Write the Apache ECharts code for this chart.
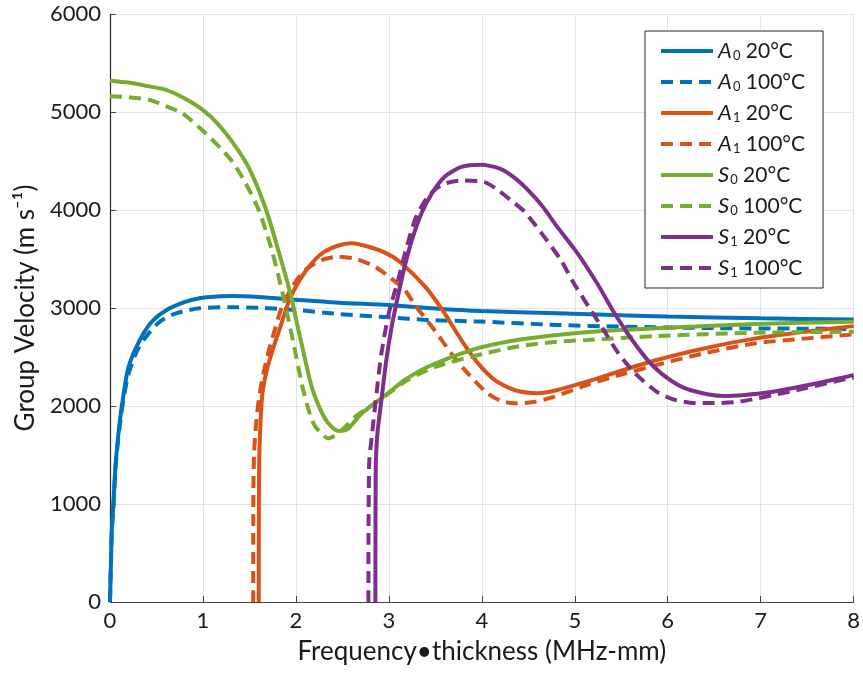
<!DOCTYPE html>
<html>
<head>
<meta charset="utf-8">
<script src="https://cdn.jsdelivr.net/npm/echarts@6/dist/echarts.min.js"></script>
<style>
  html, body { margin: 0; padding: 0; background: #fff; }
  #chart { width: 863px; height: 673px; }
</style>
</head>
<body>
<div id="chart"></div>
<script>
"use strict";

var xTicks = [0, 1, 2, 3, 4, 5, 6, 7, 8];
var yTicks = [0, 1000, 2000, 3000, 4000, 5000, 6000];

// [frequency*thickness, group velocity]
var a0_20 = [[0,0],[0.01,400],[0.02,750],[0.035,970],[0.06,1400],[0.1,1800],[0.142,2095],[0.2,2400],[0.32,2673],[0.45,2860],[0.61,2980],[0.8,3060],[0.96,3099],[1.15,3118],[1.32,3122],[1.6,3112],[2.0,3085],[2.46,3054],[3.0,3030],[3.5,2995],[3.99,2969],[4.81,2946],[5.5,2925],[6,2912],[7,2895],[8,2882]];
var a0_100 = [[0,0],[0.01,400],[0.02,740],[0.035,950],[0.06,1380],[0.1,1760],[0.142,2050],[0.2,2330],[0.3,2580],[0.43,2758],[0.55,2870],[0.71,2946],[0.96,2997],[1.28,3007],[1.6,3003],[2.0,2980],[2.46,2939],[3.0,2905],[3.42,2878],[3.99,2861],[4.81,2827],[5.5,2810],[6.5,2795],[7.88,2786],[8,2782]];
var a1_20 = [[1.6,0],[1.601,700],[1.603,1200],[1.607,1517],[1.62,1850],[1.64,2129],[1.69,2380],[1.75,2571],[1.83,2800],[1.93,3082],[2.05,3300],[2.17,3456],[2.3,3570],[2.46,3638],[2.6,3660],[2.8,3620],[2.97,3560],[3.12,3470],[3.39,3218],[3.6,2946],[3.78,2673],[3.96,2435],[4.14,2265],[4.35,2163],[4.6,2130],[4.81,2163],[5.13,2248],[5.5,2360],[5.88,2469],[6.4,2590],[6.95,2690],[7.5,2760],[8,2815]];
var a1_100 = [[1.54,0],[1.541,700],[1.543,1200],[1.55,1517],[1.57,1800],[1.6,2061],[1.65,2330],[1.71,2571],[1.78,2800],[1.85,3013],[1.97,3230],[2.1,3388],[2.28,3490],[2.46,3524],[2.65,3500],[2.85,3422],[3.0,3320],[3.17,3184],[3.28,3031],[3.49,2776],[3.67,2538],[3.85,2333],[4.06,2130],[4.2,2055],[4.35,2027],[4.55,2040],[4.78,2095],[5.13,2214],[5.5,2320],[5.88,2418],[6.4,2540],[6.95,2640],[7.5,2690],[8,2730]];
var s0_20 = [[0,5320],[0.2,5300],[0.4,5265],[0.61,5224],[0.8,5140],[1.0,5020],[1.15,4890],[1.32,4690],[1.5,4420],[1.68,4000],[1.82,3558],[1.94,3150],[2.05,2680],[2.17,2197],[2.27,1950],[2.35,1823],[2.46,1745],[2.55,1760],[2.71,1925],[2.85,2030],[2.99,2130],[3.17,2265],[3.42,2401],[3.89,2571],[4.3,2660],[4.81,2724],[5.3,2765],[5.88,2793],[6.95,2837],[8,2860]];
var s0_100 = [[0,5160],[0.2,5150],[0.43,5122],[0.6,5060],[0.78,4986],[1.03,4782],[1.2,4620],[1.32,4490],[1.46,4272],[1.6,4000],[1.73,3626],[1.84,3218],[1.95,2750],[2.07,2197],[2.15,1920],[2.21,1789],[2.35,1670],[2.5,1760],[2.64,1891],[2.85,2027],[3.0,2130],[3.2,2265],[3.5,2400],[3.96,2520],[4.4,2610],[4.81,2656],[5.13,2673],[5.88,2714],[6.95,2748],[8,2758]];
var s1_20 = [[2.855,0],[2.856,700],[2.858,1200],[2.862,1483],[2.88,1750],[2.92,2061],[2.97,2450],[3.03,2809],[3.1,3130],[3.17,3422],[3.25,3700],[3.35,3966],[3.47,4180],[3.6,4340],[3.78,4440],[3.99,4462],[4.2,4420],[4.35,4330],[4.5,4200],[4.65,4040],[4.81,3830],[5.03,3558],[5.24,3252],[5.45,2911],[5.67,2605],[5.85,2401],[6.05,2250],[6.24,2163],[6.6,2102],[7.13,2146],[7.6,2230],[8,2316]];
var s1_100 = [[2.78,0],[2.781,700],[2.785,1200],[2.79,1450],[2.82,1721],[2.87,2150],[2.92,2537],[3.0,2950],[3.1,3286],[3.18,3580],[3.28,3898],[3.38,4080],[3.49,4204],[3.62,4275],[3.8,4302],[4.03,4285],[4.15,4220],[4.31,4102],[4.46,3983],[4.67,3728],[4.85,3490],[4.99,3252],[5.15,3013],[5.31,2776],[5.47,2538],[5.65,2333],[5.88,2146],[6.05,2070],[6.24,2034],[6.5,2030],[6.77,2044],[7.31,2146],[7.95,2282],[8,2290]];

var seriesNames = ["A0 20", "A0 100", "A1 20", "A1 100", "S0 20", "S0 100", "S1 20", "S1 100"];
var seriesData = [a0_20, a0_100, a1_20, a1_100, s0_20, s0_100, s1_20, s1_100];
var colors = ["#0072BD", "#0072BD", "#D95319", "#D95319", "#77AC30", "#77AC30", "#7E2F8E", "#7E2F8E"];

var FONT = "Lato";

function mkSeries(i) {
    var dashed = i % 2 === 1;
    return {
        name: seriesNames[i],
        type: "line",
        data: seriesData[i],
        symbol: "none",
        smooth: 0.25,
        z: 2 + i,
        lineStyle: { color: colors[i], width: 4, type: dashed ? [12, 7] : "solid", cap: "butt" },
        itemStyle: { color: colors[i] }
    };
}

var option = {
    animation: false,
    backgroundColor: "#fff",
    textStyle: { fontFamily: FONT },
    grid: { left: 110, right: 5, top: 14, bottom: 71 },
    xAxis: {
        type: "value", min: xTicks[0], max: xTicks[xTicks.length - 1], interval: 1,
        name: "Frequency\u2022thickness (MHz-mm)", nameLocation: "middle", nameGap: 37,
        nameTextStyle: { fontFamily: FONT, fontSize: 26, color: "#1a1a1a" },
        axisLine: { lineStyle: { color: "#404040", width: 1.2 } },
        axisTick: { inside: true, length: 6, lineStyle: { color: "#404040" } },
        axisLabel: { fontFamily: FONT, fontSize: 22, color: "#1a1a1a", margin: 8 },
        splitLine: { show: true, lineStyle: { color: "#e3e3e3", width: 1 } }
    },
    yAxis: {
        type: "value", min: yTicks[0], max: yTicks[yTicks.length - 1], interval: 1000,
        name: "Group Velocity (m s\u207B\u00B9)", nameLocation: "middle", nameGap: 70,
        nameTextStyle: { fontFamily: FONT, fontSize: 26, color: "#1a1a1a" },
        axisLine: { show: true, lineStyle: { color: "#262626", width: 1.2 } },
        axisTick: { show: true, inside: true, length: 6, lineStyle: { color: "#404040" } },
        axisLabel: { fontFamily: FONT, fontSize: 22, color: "#1a1a1a", margin: 9, formatter: function (v) { return String(v); } },
        splitLine: { show: true, lineStyle: { color: "#e3e3e3", width: 1 } }
    },
    legend: {
        orient: "vertical",
        left: 645, top: 31,
        padding: [9, 18, 9, 14],
        itemWidth: 52, itemHeight: 14, itemGap: 9,
        backgroundColor: "#fff",
        borderColor: "#262626", borderWidth: 1,
        itemStyle: { opacity: 0 },
        lineStyle: { width: 4 },
        data: seriesNames,
        formatter: function (n) {
            var p = n.split(" ");
            return "{i|" + p[0].charAt(0) + "}{sub|" + p[0].charAt(1) + "} {t|" + p[1] + "\u00B0C}";
        },
        textStyle: {
            fontFamily: FONT, fontSize: 21, color: "#1a1a1a",
            rich: {
                i: { fontFamily: FONT, fontStyle: "italic", fontSize: 22, color: "#1a1a1a" },
                sub: { fontFamily: FONT, fontSize: 13, color: "#1a1a1a", verticalAlign: "bottom", padding: [8, 0, 0, 1] },
                t: { fontFamily: FONT, fontSize: 21, color: "#1a1a1a" }
            }
        }
    },
    series: seriesData.map(function (d, i) { return mkSeries(i); })
};

var chart = echarts.init(document.getElementById("chart"), null, { renderer: "canvas" });
chart.setOption(option);
</script>
</body>
</html>
